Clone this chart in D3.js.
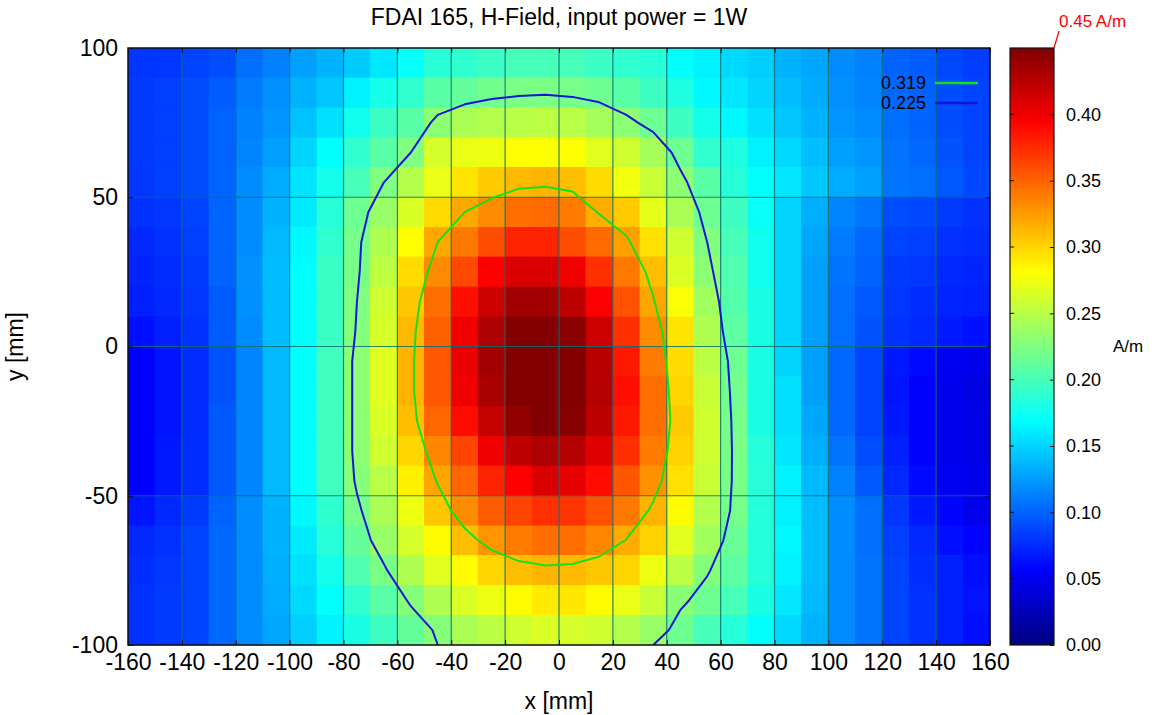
<!DOCTYPE html>
<html>
<head>
<meta charset="utf-8">
<script src="https://cdn.jsdelivr.net/npm/d3@7"></script>
<style>
body { margin:0; background:#fff; }
svg { font-family: "Liberation Sans", Arial, sans-serif; }
</style>
</head>
<body>
<div class="chart"></div>
<script>
// cell centres [mm]
const xMid = [-155,-145,-135,-125,-115,-105,-95,-85,-75,-65,-55,-45,-35,-25,-15,-5,
              5,15,25,35,45,55,65,75,85,95,105,115,125,135,145,155];
const yMid = [95,85,75,65,55,45,35,25,15,5,-5,-15,-25,-35,-45,-55,-65,-75,-85,-95];

// |H| in A/m, one row per y, read left to right
const row_p95 = [0.079,0.080,0.086,0.090,0.105,0.113,0.127,0.135,0.146,0.158,0.171,0.187,0.190,0.195,0.200,0.200, 0.200,0.195,0.190,0.186,0.170,0.163,0.152,0.147,0.135,0.130,0.118,0.113,0.100,0.097,0.088,0.083];
const row_p85 = [0.082,0.084,0.090,0.097,0.110,0.120,0.135,0.144,0.163,0.178,0.190,0.208,0.213,0.219,0.222,0.223, 0.221,0.217,0.208,0.196,0.182,0.166,0.158,0.150,0.140,0.132,0.120,0.115,0.102,0.100,0.090,0.086];
const row_p75 = [0.082,0.084,0.090,0.100,0.113,0.122,0.142,0.155,0.176,0.195,0.208,0.231,0.244,0.248,0.250,0.252, 0.250,0.242,0.231,0.217,0.196,0.177,0.166,0.155,0.144,0.135,0.122,0.118,0.105,0.100,0.090,0.086];
const row_p65 = [0.082,0.084,0.090,0.100,0.115,0.126,0.150,0.169,0.190,0.208,0.225,0.263,0.272,0.274,0.281,0.281, 0.281,0.268,0.260,0.242,0.217,0.190,0.182,0.163,0.152,0.140,0.127,0.122,0.107,0.102,0.093,0.086];
const row_p55 = [0.080,0.084,0.090,0.100,0.118,0.132,0.157,0.177,0.200,0.225,0.248,0.272,0.293,0.304,0.312,0.314, 0.310,0.297,0.276,0.257,0.231,0.208,0.186,0.170,0.158,0.144,0.132,0.127,0.108,0.105,0.095,0.088];
const row_p45 = [0.078,0.080,0.086,0.100,0.118,0.135,0.160,0.186,0.217,0.236,0.265,0.297,0.319,0.332,0.345,0.347, 0.339,0.317,0.304,0.270,0.244,0.217,0.196,0.172,0.150,0.133,0.115,0.108,0.090,0.088,0.082,0.078];
const row_p35 = [0.074,0.078,0.084,0.100,0.118,0.138,0.166,0.190,0.221,0.246,0.281,0.319,0.341,0.360,0.378,0.378, 0.360,0.347,0.323,0.295,0.260,0.225,0.200,0.176,0.150,0.130,0.110,0.102,0.086,0.084,0.078,0.076];
const row_p25 = [0.072,0.076,0.082,0.100,0.120,0.140,0.168,0.195,0.222,0.252,0.297,0.332,0.362,0.394,0.410,0.410, 0.400,0.373,0.341,0.310,0.266,0.231,0.204,0.176,0.150,0.127,0.107,0.100,0.082,0.080,0.074,0.072];
const row_p15 = [0.070,0.074,0.080,0.097,0.120,0.140,0.169,0.195,0.225,0.260,0.306,0.345,0.387,0.416,0.435,0.435, 0.423,0.396,0.358,0.321,0.279,0.240,0.206,0.180,0.150,0.127,0.105,0.095,0.080,0.076,0.072,0.070];
const row_p05 = [0.063,0.070,0.078,0.097,0.118,0.140,0.169,0.195,0.227,0.263,0.312,0.351,0.400,0.430,0.449,0.449, 0.445,0.416,0.373,0.332,0.293,0.246,0.210,0.180,0.150,0.127,0.105,0.093,0.078,0.074,0.067,0.063];
const row_m05 = [0.056,0.065,0.076,0.093,0.115,0.138,0.169,0.197,0.231,0.268,0.314,0.355,0.403,0.435,0.449,0.449, 0.449,0.425,0.383,0.339,0.297,0.252,0.217,0.180,0.150,0.127,0.102,0.086,0.067,0.060,0.050,0.047];
const row_m15 = [0.056,0.065,0.076,0.093,0.115,0.138,0.169,0.197,0.231,0.268,0.314,0.355,0.400,0.432,0.449,0.449, 0.449,0.427,0.387,0.345,0.300,0.257,0.219,0.180,0.155,0.127,0.102,0.086,0.065,0.056,0.049,0.044];
const row_m25 = [0.056,0.065,0.076,0.095,0.115,0.138,0.169,0.197,0.231,0.265,0.310,0.349,0.389,0.420,0.442,0.449, 0.447,0.423,0.383,0.345,0.304,0.260,0.221,0.180,0.155,0.130,0.102,0.086,0.067,0.056,0.049,0.045];
const row_m35 = [0.056,0.067,0.076,0.095,0.115,0.138,0.169,0.197,0.231,0.260,0.300,0.334,0.364,0.400,0.423,0.430, 0.427,0.408,0.373,0.339,0.301,0.260,0.222,0.185,0.158,0.133,0.107,0.090,0.070,0.056,0.049,0.045];
const row_m45 = [0.056,0.067,0.076,0.095,0.115,0.138,0.169,0.197,0.228,0.250,0.288,0.321,0.349,0.378,0.394,0.410, 0.405,0.389,0.356,0.330,0.295,0.257,0.222,0.187,0.163,0.138,0.113,0.095,0.074,0.060,0.050,0.047];
const row_m55 = [0.065,0.074,0.082,0.100,0.118,0.135,0.166,0.190,0.221,0.244,0.274,0.306,0.332,0.353,0.364,0.373, 0.371,0.358,0.341,0.314,0.283,0.248,0.221,0.185,0.163,0.140,0.118,0.105,0.080,0.067,0.058,0.047];
const row_m65 = [0.074,0.078,0.086,0.102,0.118,0.135,0.160,0.186,0.213,0.236,0.263,0.283,0.310,0.328,0.339,0.345, 0.345,0.334,0.318,0.301,0.268,0.240,0.215,0.185,0.166,0.140,0.118,0.105,0.084,0.074,0.063,0.058];
const row_m75 = [0.076,0.080,0.086,0.102,0.118,0.133,0.155,0.177,0.204,0.222,0.246,0.268,0.283,0.300,0.310,0.314, 0.312,0.306,0.300,0.274,0.252,0.227,0.210,0.185,0.163,0.140,0.118,0.107,0.086,0.076,0.070,0.062];
const row_m85 = [0.078,0.082,0.086,0.102,0.118,0.132,0.152,0.170,0.190,0.208,0.228,0.246,0.265,0.274,0.283,0.290, 0.292,0.283,0.272,0.257,0.229,0.217,0.200,0.180,0.158,0.138,0.118,0.107,0.086,0.078,0.070,0.064];
const row_m95 = [0.078,0.082,0.086,0.102,0.118,0.130,0.147,0.163,0.180,0.196,0.213,0.228,0.244,0.252,0.260,0.265, 0.263,0.260,0.248,0.236,0.217,0.200,0.185,0.170,0.152,0.135,0.118,0.107,0.086,0.078,0.070,0.062];

const hRows = [row_p95,row_p85,row_p75,row_p65,row_p55,row_p45,row_p35,row_p25,row_p15,row_p05,
               row_m05,row_m15,row_m25,row_m35,row_m45,row_m55,row_m65,row_m75,row_m85,row_m95];

const contourLevels = [0.319, 0.225];
const contourColors = ["#14e014", "#1414d8"];
const xTicks = [-160,-140,-120,-100,-80,-60,-40,-20,0,20,40,60,80,100,120,140,160];
const yTicks = [-100,-50,0,50,100];
const cbTicks = [0,0.05,0.10,0.15,0.20,0.25,0.30,0.35,0.40];
const hMax = 0.45;

// initialization
let margin = {top:48, right:165, left:128, bottom:70};
let outWidth = 1155, outHeight = 715;
let width = outWidth - margin.left - margin.right,
    height = outHeight - margin.top - margin.bottom;

const svg = d3.select('.chart').append('svg')
    .attr("width", outWidth)
    .attr("height", outHeight);

const g = svg.append("g")
    .attr("transform", `translate(${margin.left}, ${margin.top})`);

let x = d3.scaleLinear().domain([-160,160]).range([0,width]);
let y = d3.scaleLinear().domain([-100,100]).range([height,0]);

// jet colour map
const jetStops = [0, 0.125, 0.375, 0.625, 0.875, 1];
const jetColors = ["#000080","#0000ff","#00ffff","#ffff00","#ff0000","#800000"];
const color = d3.scaleLinear()
    .domain(jetStops.map(t => t*hMax))
    .range(jetColors)
    .interpolate(d3.interpolateRgb)
    .clamp(true);

// cells
const dx = xMid[1]-xMid[0], dy = yMid[0]-yMid[1];
const cells = [];
hRows.forEach((row, r) => row.forEach((v, c) => cells.push({x:xMid[c], y:yMid[r], v:v})));

g.append("g").selectAll("rect")
    .data(cells)
    .join("rect")
    .attr("x", d => x(d.x - dx/2))
    .attr("y", d => y(d.y + dy/2))
    .attr("width", d => x(d.x + dx/2) - x(d.x - dx/2))
    .attr("height", d => y(d.y - dy/2) - y(d.y + dy/2))
    .attr("fill", d => color(d.v))
    .attr("stroke", d => color(d.v))
    .attr("stroke-width", 0.4)
    .attr("shape-rendering", "crispEdges");

// grid lines
const grid = g.append("g").attr("stroke", "#0b6e6e").attr("stroke-opacity", 0.85).attr("stroke-width", 1.2);
grid.selectAll("line.v")
    .data(xTicks.slice(1,-1))
    .join("line")
    .attr("x1", d=>x(d)).attr("x2", d=>x(d))
    .attr("y1", 0).attr("y2", height);
grid.selectAll("line.h")
    .data(yTicks.slice(1,-1))
    .join("line")
    .attr("class","h")
    .attr("y1", d=>y(d)).attr("y2", d=>y(d))
    .attr("x1", 0).attr("x2", width);

// contours
const nx = xMid.length, ny = yMid.length;
const gx = d3.scaleLinear().domain([0.5, nx-0.5]).range([xMid[0], xMid[nx-1]]);
const gy = d3.scaleLinear().domain([0.5, ny-0.5]).range([yMid[0], yMid[ny-1]]);
const contours = d3.contours().size([nx, ny]).thresholds(contourLevels)(hRows.flat());

function onEdge(a, b) {
    return (a[0] <= 0 && b[0] <= 0) || (a[0] >= nx && b[0] >= nx) ||
           (a[1] <= 0 && b[1] <= 0) || (a[1] >= ny && b[1] >= ny);
}

// break rings where they run along the border
function openRuns(ring) {
    let n = ring.length - 1;
    let k = -1;
    for (let i = 0; i < n; i++) if (onEdge(ring[i], ring[i+1])) { k = i; break; }
    if (k < 0) return [ring];
    let runs = [], cur = [];
    for (let s = 1; s <= n; s++) {
        let i = (k + s) % n, j = (i + 1) % n;
        if (onEdge(ring[i], ring[j])) {
            if (cur.length > 1) runs.push(cur);
            cur = [];
        } else {
            if (!cur.length) cur.push(ring[i]);
            cur.push(ring[j]);
        }
    }
    if (cur.length > 1) runs.push(cur);
    return runs;
}

const line = d3.line().x(p => x(gx(p[0]))).y(p => y(gy(p[1])));
const contourG = g.append("g").attr("fill", "none").attr("stroke-width", 2).attr("stroke-linejoin", "round");
contours.forEach(c => {
    let col = contourColors[contourLevels.indexOf(c.value)];
    c.coordinates.forEach(poly => poly.forEach(ring => {
        openRuns(ring).forEach(run => {
            contourG.append("path").attr("d", line(run)).attr("stroke", col);
        });
    }));
});

// frame
g.append("rect").attr("width", width).attr("height", height)
    .attr("fill","none").attr("stroke","#111").attr("stroke-width",1.5);

// axes
const fs = 23;
const xAxis = g.append("g").attr("transform", `translate(0,${height})`)
    .call(d3.axisBottom(x).tickValues(xTicks).tickFormat(d => String(d))
        .tickSizeInner(-5).tickSizeOuter(0).tickPadding(9));
const xAxisTop = g.append("g")
    .call(d3.axisTop(x).tickValues(xTicks).tickSizeInner(-5).tickSizeOuter(0).tickFormat(""));
const yAxis = g.append("g")
    .call(d3.axisLeft(y).tickValues(yTicks).tickFormat(d => String(d))
        .tickSizeInner(-5).tickSizeOuter(0).tickPadding(10));
const yAxisRight = g.append("g").attr("transform", `translate(${width},0)`)
    .call(d3.axisRight(y).tickValues(yTicks).tickSizeInner(-5).tickSizeOuter(0).tickFormat(""));
[xAxis, xAxisTop, yAxis, yAxisRight].forEach(a => {
    a.select(".domain").remove();
    a.selectAll("line").attr("stroke", "#111");
    a.selectAll("text").attr("font-size", fs).attr("font-family", null).attr("fill", "#000");
});

g.append("text").attr("x", width/2).attr("y", height + 64)
    .attr("text-anchor","middle").attr("font-size", fs).text("x [mm]");
g.append("text").attr("transform", `translate(${-105},${height/2}) rotate(-90)`)
    .attr("text-anchor","middle").attr("font-size", fs).text("y [mm]");

svg.append("text").attr("x", margin.left + width/2).attr("y", 25)
    .attr("text-anchor","middle").attr("font-size", 23).text("FDAI 165, H-Field, input power = 1W");

// legend
const legend = g.append("g").attr("transform", `translate(${width-64},${35})`);
contourLevels.forEach((lv, i) => {
    let row = legend.append("g").attr("transform", `translate(0,${i*20})`);
    row.append("text").attr("x", 0).attr("dy", "0.35em").attr("text-anchor","end")
        .attr("font-size", 18).text(d3.format(".3f")(lv));
    row.append("line").attr("x1", 9).attr("x2", 52).attr("stroke", contourColors[i]).attr("stroke-width", 2.5);
});

// colour bar
const cbX = 882, cbW = 44;
const cbY = d3.scaleLinear().domain([0,hMax]).range([height,0]);
const grad = svg.append("defs").append("linearGradient")
    .attr("id","jet").attr("x1",0).attr("x2",0).attr("y1",1).attr("y2",0);
jetStops.forEach((t,i) => grad.append("stop").attr("offset", t).attr("stop-color", jetColors[i]));

const cb = g.append("g").attr("transform", `translate(${cbX},0)`);
cb.append("rect").attr("width", cbW).attr("height", height).attr("fill","url(#jet)")
    .attr("stroke","#111").attr("stroke-width",1.2);
const cbAxis = cb.append("g").attr("transform", `translate(${cbW},0)`)
    .call(d3.axisRight(cbY).tickValues(cbTicks).tickFormat(d3.format(".2f")).tickSizeInner(-4).tickSizeOuter(0).tickPadding(12));
cbAxis.select(".domain").remove();
cbAxis.selectAll("line").attr("stroke","#111");
cbAxis.selectAll("text").attr("font-size", 18).attr("font-family", null);
cb.append("g").selectAll("line")
    .data(cbTicks.slice(1))
    .join("line")
    .attr("x1",0).attr("x2",4)
    .attr("y1", d=>cbY(d)).attr("y2", d=>cbY(d))
    .attr("stroke","#111");

cb.append("text").attr("x", cbW + 59).attr("y", height/2).attr("dy","0.35em")
    .attr("font-size", 17).text("A/m");

// max value label
cb.append("line").attr("x1", cbW).attr("y1", 0).attr("x2", cbW+5).attr("y2", -17)
    .attr("stroke","#e00").attr("stroke-width",1.2);
cb.append("text").attr("x", cbW+5).attr("y", -21)
    .attr("fill","#f00").attr("font-size", 17).text("0.45 A/m");
</script>
</body>
</html>
